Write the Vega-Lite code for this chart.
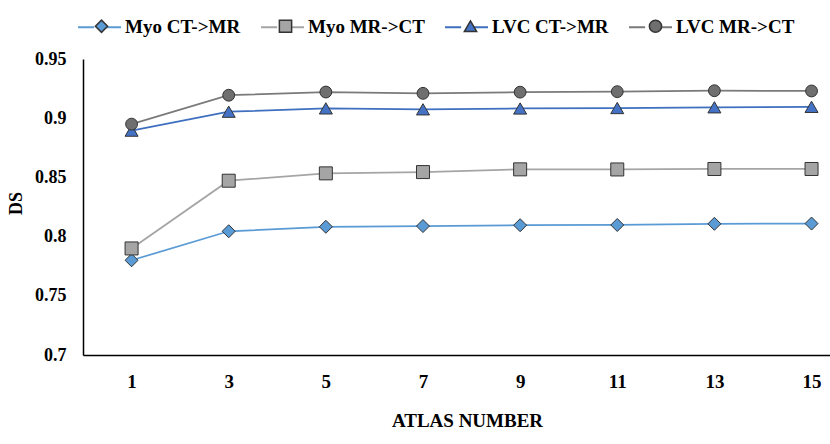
{
  "$schema": "https://vega.github.io/schema/vega-lite/v6.json",
  "width": 747,
  "height": 296,
  "autosize": {"type": "none"},
  "padding": {"left": 83, "top": 59, "right": 0, "bottom": 89},
  "background": "#ffffff",
  "config": {
    "view": {"stroke": "transparent"},
    "font": "Liberation Serif",
    "axis": {
      "grid": false,
      "ticks": false,
      "domainColor": "#000000",
      "domainWidth": 1.5,
      "labelFont": "Liberation Serif",
      "labelFontWeight": "bold",
      "labelColor": "#000000",
      "titleFont": "Liberation Serif",
      "titleFontWeight": "bold",
      "titleColor": "#000000"
    },
    "legend": {
      "orient": "none",
      "direction": "horizontal",
      "columns": 4,
      "padding": 0,
      "columnPadding": 16,
      "labelFont": "Liberation Serif",
      "labelFontWeight": "bold",
      "labelFontSize": 19,
      "labelColor": "#000000",
      "labelLimit": 300
    }
  },
  "data": {
    "values": [
      {"Atlas": 1, "Series": "Myo CT->MR", "DS": 0.780},
      {"Atlas": 3, "Series": "Myo CT->MR", "DS": 0.8045},
      {"Atlas": 5, "Series": "Myo CT->MR", "DS": 0.8083},
      {"Atlas": 7, "Series": "Myo CT->MR", "DS": 0.8089},
      {"Atlas": 9, "Series": "Myo CT->MR", "DS": 0.8096},
      {"Atlas": 11, "Series": "Myo CT->MR", "DS": 0.8098},
      {"Atlas": 13, "Series": "Myo CT->MR", "DS": 0.8108},
      {"Atlas": 15, "Series": "Myo CT->MR", "DS": 0.8110},
      {"Atlas": 1, "Series": "Myo MR->CT", "DS": 0.790},
      {"Atlas": 3, "Series": "Myo MR->CT", "DS": 0.8472},
      {"Atlas": 5, "Series": "Myo MR->CT", "DS": 0.8534},
      {"Atlas": 7, "Series": "Myo MR->CT", "DS": 0.8545},
      {"Atlas": 9, "Series": "Myo MR->CT", "DS": 0.8568},
      {"Atlas": 11, "Series": "Myo MR->CT", "DS": 0.8567},
      {"Atlas": 13, "Series": "Myo MR->CT", "DS": 0.8571},
      {"Atlas": 15, "Series": "Myo MR->CT", "DS": 0.8571},
      {"Atlas": 1, "Series": "LVC CT->MR", "DS": 0.8895},
      {"Atlas": 3, "Series": "LVC CT->MR", "DS": 0.9055},
      {"Atlas": 5, "Series": "LVC CT->MR", "DS": 0.9083},
      {"Atlas": 7, "Series": "LVC CT->MR", "DS": 0.9075},
      {"Atlas": 9, "Series": "LVC CT->MR", "DS": 0.9082},
      {"Atlas": 11, "Series": "LVC CT->MR", "DS": 0.9086},
      {"Atlas": 13, "Series": "LVC CT->MR", "DS": 0.9092},
      {"Atlas": 15, "Series": "LVC CT->MR", "DS": 0.9096},
      {"Atlas": 1, "Series": "LVC MR->CT", "DS": 0.895},
      {"Atlas": 3, "Series": "LVC MR->CT", "DS": 0.9194},
      {"Atlas": 5, "Series": "LVC MR->CT", "DS": 0.9221},
      {"Atlas": 7, "Series": "LVC MR->CT", "DS": 0.9210},
      {"Atlas": 9, "Series": "LVC MR->CT", "DS": 0.9220},
      {"Atlas": 11, "Series": "LVC MR->CT", "DS": 0.9224},
      {"Atlas": 13, "Series": "LVC MR->CT", "DS": 0.9232},
      {"Atlas": 15, "Series": "LVC MR->CT", "DS": 0.9230}
    ]
  },
  "encoding": {
    "x": {
      "field": "Atlas",
      "type": "quantitative",
      "scale": {"domain": [0, 15.38], "nice": false, "zero": false},
      "axis": {
        "values": [1, 3, 5, 7, 9, 11, 13, 15],
        "labelFontSize": 19,
        "labelPadding": 17,
        "title": "ATLAS NUMBER",
        "titleFontSize": 19,
        "titleBaseline": "middle",
        "titleX": 384,
        "titleY": 65
      }
    },
    "y": {
      "field": "DS",
      "type": "quantitative",
      "scale": {"domain": [0.7, 0.95], "nice": false, "zero": false},
      "axis": {
        "values": [0.7, 0.75, 0.8, 0.85, 0.9, 0.95],
        "format": ".2~f",
        "labelFontSize": 18,
        "labelPadding": 17,
        "title": "DS",
        "titleFontSize": 18,
        "titleBaseline": "middle",
        "titleX": -67,
        "titleY": 144
      }
    }
  },
  "layer": [
    {
      "mark": {"type": "line", "strokeWidth": 1.75},
      "encoding": {
        "color": {
          "field": "Series",
          "type": "nominal",
          "scale": {"range": ["#3f6fbf", "#7a7a7a", "#5b9bd5", "#a5a5a5"]},
          "legend": {
            "title": null,
            "values": ["Myo CT->MR", "Myo MR->CT", "LVC CT->MR", "LVC MR->CT"],
            "legendX": -6,
            "legendY": -54.5,
            "symbolSize": 1849,
            "labelOffset": 3,
            "symbolType": "M-1,0H-0.25M0.25,0H1",
            "symbolStrokeWidth": 2
          }
        }
      }
    },
    {
      "mark": {"type": "point", "filled": true, "opacity": 1, "stroke": "#333333", "strokeWidth": 1},
      "encoding": {
        "fill": {
          "field": "Series",
          "type": "nominal",
          "scale": {
            "domain": ["Myo CT->MR", "Myo MR->CT", "LVC CT->MR", "LVC MR->CT"],
            "range": ["#5b9bd5", "#a5a5a5", "#4472c4", "#6f6f6f"]
          },
          "legend": {
            "title": null,
            "legendX": 9,
            "legendY": -42.5,
            "symbolSize": 150,
            "labelOffset": 33,
            "labelOpacity": 0
          }
        },
        "shape": {
          "field": "Series",
          "type": "nominal",
          "scale": {
            "domain": ["Myo CT->MR", "Myo MR->CT", "LVC CT->MR", "LVC MR->CT"],
            "range": ["diamond", "square", "triangle-up", "circle"]
          }
        },
        "size": {
          "condition": {"test": "datum.Series === 'LVC MR->CT'", "value": 140},
          "value": 169
        }
      }
    }
  ]
}
